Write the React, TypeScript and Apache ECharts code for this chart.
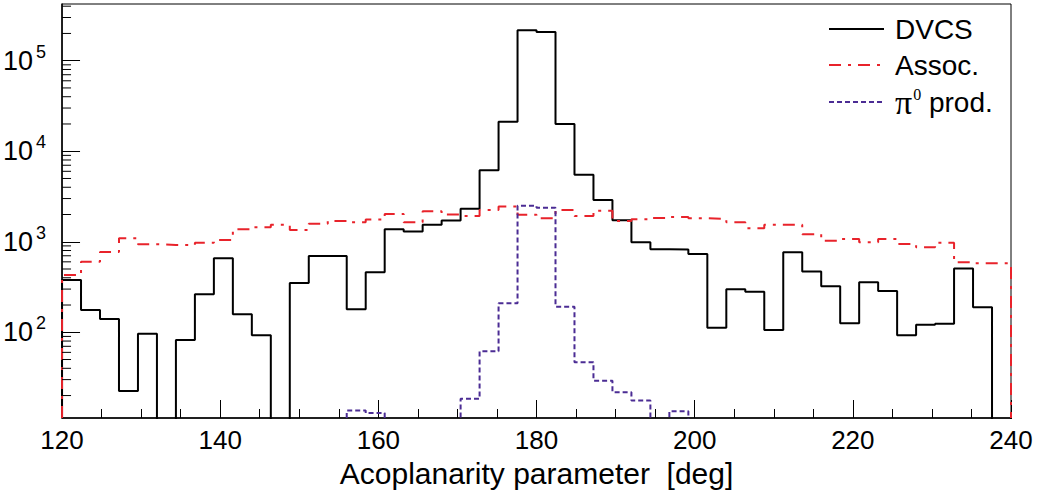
import React, { useEffect, useRef } from "react";
import * as echarts from "echarts";

// Histogram binning: 50 bins of 2.4 deg from 120 to 240
const BIN_START = 120;
const BIN_WIDTH = 2.4;

// Bin contents (0 = empty bin)
const dvcs = [
  379, 176, 140, 22.4, 96.5, 0, 82, 263, 657, 158,
  93, 0, 350, 697, 697, 180, 460, 1374, 1300, 1545,
  1715, 2320, 6170, 21200, 217000, 207000, 20000, 5510, 2900, 1730,
  990, 825, 820, 733, 112, 299, 281, 106, 768, 470,
  323, 126, 357, 286, 93, 121, 124, 505, 189, 0,
];

const assoc = [
  430, 603, 771, 1094, 938, 922, 920, 978, 1047, 1374,
  1445, 1545, 1350, 1585, 1700, 1641, 1760, 2030, 1641, 2174,
  1995, 1930, 2245, 2444, 1990, 1820, 2245, 1925, 2200, 1700,
  1773, 1833, 1880, 1820, 1790, 1640, 1410, 1545, 1545, 1210,
  1028, 1074, 986, 1074, 946, 869, 978, 593, 578, 578,
];

const pi0 = [
  0, 0, 0, 0, 0, 0, 0, 0, 0, 0,
  0, 0, 0, 0, 0, 13.7, 12.8, 0, 0, 0,
  0, 18.4, 61.7, 209, 2494, 2372, 192, 46.7, 29.2, 21.8,
  17.6, 0, 13.4, 0, 0, 0, 0, 0, 0, 0,
  0, 0, 0, 0, 0, 0, 0, 0, 0, 0,
];

const seriesNames = ["DVCS", "Assoc.", "π0 prod."];
const Y_MIN = 11.3;
const Y_MAX = 4.23e5;
const X_MIN = 120;
const X_MAX = 240;
const X_INTERVAL = 20;

// log-axis minor tick values (2..9 x 10^k)
const minorYTicks = [
  20, 30, 40, 50, 60, 70, 80, 90,
  200, 300, 400, 500, 600, 700, 800, 900,
  2000, 3000, 4000, 5000, 6000, 7000, 8000, 9000,
  20000, 30000, 40000, 50000, 60000, 70000, 80000, 90000,
  200000, 300000, 400000,
];

const FONT = "'Liberation Sans', Arial, Helvetica, sans-serif";
const SERIF = "'Liberation Serif', 'Times New Roman', serif";

// empty bins are drawn below the axis minimum, so they are clipped away like in the original
function toSteps(vals: number[], keepEdges: boolean): number[][] {
  const floor = Y_MIN * 0.5;
  const edgeFloor = keepEdges ? Y_MIN : floor;
  const pts: number[][] = [[BIN_START, edgeFloor]];
  vals.forEach((v, i) => {
    pts.push([BIN_START + i * BIN_WIDTH, v > 0 ? v : floor]);
  });
  const last = vals[vals.length - 1];
  const end = BIN_START + vals.length * BIN_WIDTH;
  pts.push([end, last > 0 ? last : floor]);
  pts.push([end, edgeFloor]);
  return pts;
}

export default function App() {
  const ref = useRef<HTMLDivElement>(null);

  useEffect(() => {
    if (!ref.current) return;
    const chart = echarts.init(ref.current, undefined, { renderer: "svg" });

    const option: any = {
      animation: false,
      backgroundColor: "#ffffff",
      grid: {
        left: 62,
        right: 29,
        top: 4,
        bottom: 80,
        show: true,
        borderColor: "#000",
        borderWidth: 1,
        backgroundColor: "transparent",
      },
      legend: {
        orient: "vertical",
        left: 828,
        top: 13,
        padding: 0,
        itemWidth: 55,
        itemHeight: 14,
        itemGap: 4,
        selectedMode: false,
        data: seriesNames,
        itemStyle: { opacity: 0 },
        formatter: (name: string) =>
          name === "π0 prod." ? "{pi|π}{sup|0}{t| prod.}" : name,
        textStyle: {
          fontSize: 28,
          lineHeight: 32,
          color: "#000",
          fontFamily: FONT,
          padding: [0, 0, 0, 6],
          rich: {
            pi: { fontSize: 34, lineHeight: 32, fontFamily: SERIF, color: "#000" },
            sup: {
              fontSize: 16,
              lineHeight: 16,
              fontFamily: SERIF,
              color: "#000",
              verticalAlign: "top",
              padding: [0, 0, 0, 1],
            },
            t: { fontSize: 28, lineHeight: 32, fontFamily: FONT, color: "#000" },
          },
        },
      },
      xAxis: {
        type: "value",
        min: X_MIN,
        max: X_MAX,
        interval: X_INTERVAL,
        axisLine: { show: true, onZero: false, lineStyle: { color: "#000", width: 1.5 } },
        axisTick: { show: true, inside: true, length: 18, lineStyle: { color: "#000", width: 1 } },
        minorTick: { show: true, splitNumber: 4, length: 9, lineStyle: { color: "#000", width: 1 } },
        splitLine: { show: false },
        axisLabel: { fontSize: 26, color: "#000", margin: 9, fontFamily: FONT },
        name: "Acoplanarity parameter  [deg]",
        nameLocation: "middle",
        nameGap: 40,
        nameTextStyle: { fontSize: 30, color: "#000", fontFamily: FONT },
      },
      yAxis: {
        type: "log",
        logBase: 10,
        min: Y_MIN,
        max: Y_MAX,
        axisLine: { show: true, lineStyle: { color: "#000", width: 1.5 } },
        axisTick: { show: true, inside: true, length: 18, lineStyle: { color: "#000", width: 1 } },
        splitLine: { show: false },
        axisLabel: {
          showMinLabel: false,
          showMaxLabel: false,
          margin: 16,
          formatter: (v: number) => `{b|10}{e|${Math.round(Math.log10(v))}}`,
          rich: {
            b: { fontSize: 27, lineHeight: 36, color: "#000", fontFamily: FONT },
            e: { fontSize: 18, lineHeight: 18, color: "#000", fontFamily: FONT, verticalAlign: "top", padding: [0, 0, 0, 3] },
          },
        },
      },
      series: [
        {
          name: seriesNames[0],
          type: "line",
          step: "end",
          symbol: "none",
          showSymbol: false,
          data: toSteps(dvcs, true),
          lineStyle: { color: "#000", width: 2 },
          itemStyle: { color: "#000" },
          z: 3,
        },
        {
          name: seriesNames[1],
          type: "line",
          step: "end",
          symbol: "none",
          showSymbol: false,
          data: toSteps(assoc, true),
          lineStyle: { color: "#e8232b", width: 2, type: [12, 7, 3, 7] },
          itemStyle: { color: "#e8232b" },
          z: 4,
        },
        {
          name: seriesNames[2],
          type: "line",
          step: "end",
          symbol: "none",
          showSymbol: false,
          data: toSteps(pi0, false),
          lineStyle: { color: "#4b2c94", width: 2, type: [5, 3] },
          itemStyle: { color: "#4b2c94" },
          z: 5,
        },
        {
          name: "yMinorTicks",
          type: "custom",
          silent: true,
          clip: false,
          data: minorYTicks.map((v) => [X_MIN, v]),
          renderItem: (_params: any, api: any) => {
            const p = api.coord([api.value(0), api.value(1)]);
            return {
              type: "line",
              shape: { x1: p[0], y1: p[1], x2: p[0] + 9, y2: p[1] },
              style: { stroke: "#000", lineWidth: 1 },
            };
          },
          z: 6,
        },
      ],
    };

    chart.setOption(option);
    return () => chart.dispose();
  }, []);

  return (
    <div
      ref={ref}
      style={{ position: "absolute", left: 0, top: 0, width: 1040, height: 498, background: "#fff" }}
    />
  );
}
